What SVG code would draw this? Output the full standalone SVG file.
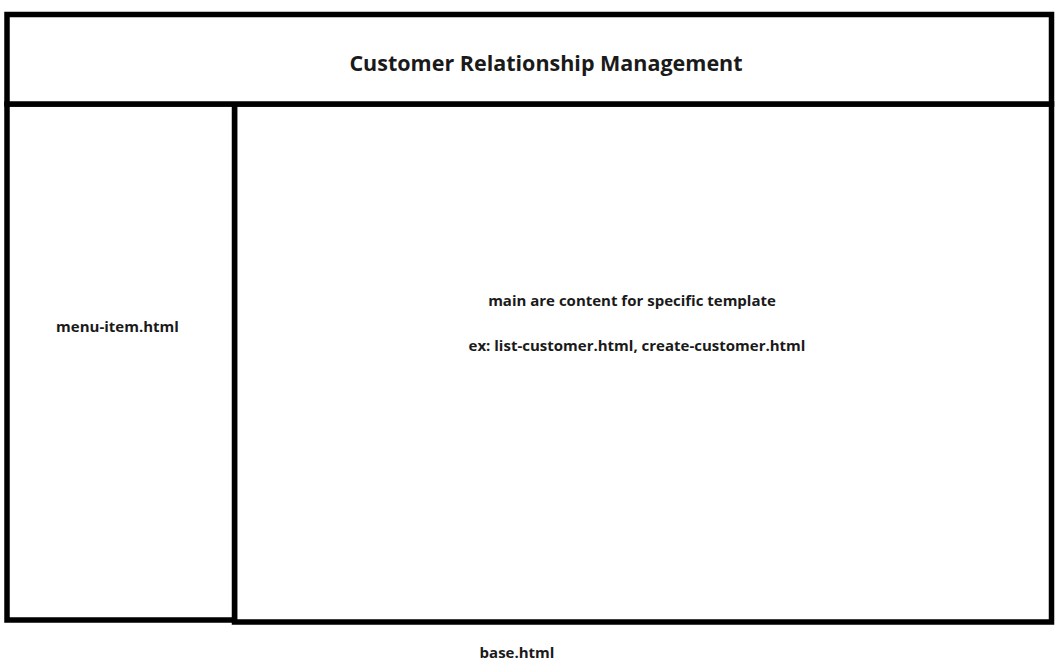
<svg xmlns="http://www.w3.org/2000/svg" width="1061" height="665" viewBox="0 0 1061 665">
  <style>
    .box { fill: #ffffff; stroke: #000000; stroke-width: 5.5; }
    .lbl { font-family: "Open Sans", "Liberation Sans", sans-serif; font-weight: 700; fill: #1a1a1a; text-anchor: middle; }
    .t { font-size: 21.5px; }
    .s { font-size: 15px; }
  </style>
  <rect width="1061" height="665" fill="#ffffff"/>
  <g id="main">
    <rect class="box" x="234.5" y="104" width="817" height="518"/>
    <text class="lbl s" x="632" y="306">main are content for specific template</text>
    <text class="lbl s" x="637" y="351">ex: list-customer.html, create-customer.html</text>
  </g>
  <g id="menu">
    <rect class="box" x="7" y="104" width="227.5" height="516"/>
    <text class="lbl s" x="117.5" y="332">menu-item.html</text>
  </g>
  <g id="header">
    <rect class="box" x="7" y="14.5" width="1044.5" height="89.5"/>
    <text class="lbl t" x="546" y="71">Customer Relationship Management</text>
  </g>
  <g id="connectors"/>
  <g id="base">
    <text class="lbl s" x="517" y="658">base.html</text>
  </g>
</svg>
